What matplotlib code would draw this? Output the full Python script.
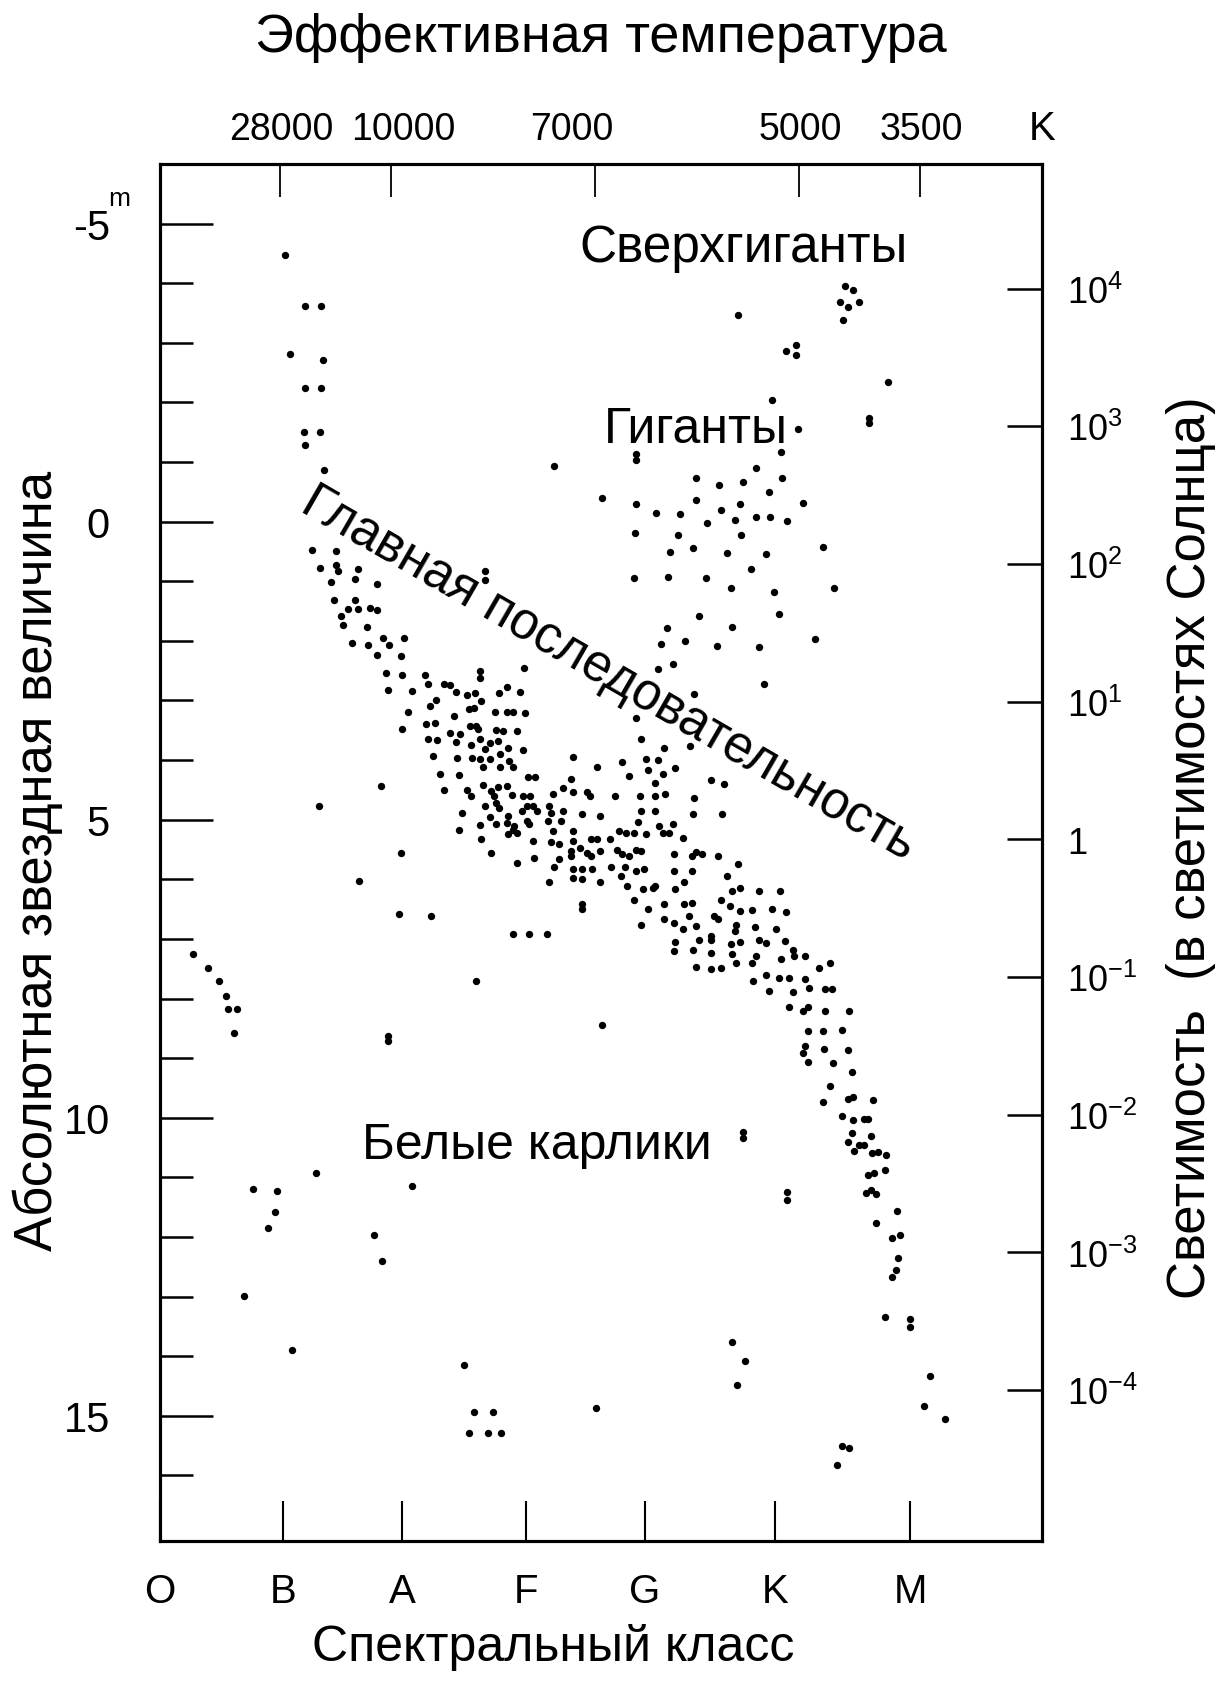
import matplotlib
matplotlib.use('Agg')
import matplotlib.pyplot as plt

plt.rcParams['font.family'] = ['Liberation Sans', 'DejaVu Sans']
plt.rcParams['mathtext.fontset'] = 'custom'
plt.rcParams['mathtext.rm'] = 'Liberation Sans'
plt.rcParams['mathtext.it'] = 'Liberation Sans:italic'
plt.rcParams['mathtext.bf'] = 'Liberation Sans:bold'
NARROW = ['Liberation Sans Narrow', 'Liberation Sans', 'DejaVu Sans']

# spectral class axis: O=0 ... , temperature marks on top, magnitudes on the left
class_names = ['O', 'B', 'A', 'F', 'G', 'K', 'M']
class_pos = [0.0, 0.976, 1.921, 2.905, 3.849, 4.881, 5.952]
temp_labels = ['28000', '10000', '7000', '5000', '3500']
temp_pos = [0.95, 1.83, 3.45, 5.07, 6.03]
temp_label_pos = [0.96, 1.93, 3.27, 5.08, 6.04]   # printed a bit off the ticks
mag_major = [-5, 0, 5, 10, 15]
mag_major_labels = ['-5', '0', '5', '10', '15']
mag_minor = [-4, -3, -2, -1, 1, 2, 3, 4, 6, 7, 8, 9, 11, 12, 13, 14, 16]
lum_exp = [4, 3, 2, 1, 0, -1, -2, -3, -4]
lum_labels = ['10$^{4}$', '10$^{3}$', '10$^{2}$', '10$^{1}$', '1',
              '10$^{-1}$', '10$^{-2}$', '10$^{-3}$', '10$^{-4}$']

# stars: (spectral position, absolute magnitude)
supergiants = [
    (0.99, -4.47), (1.15, -3.61), (1.28, -3.61), (1.03, -2.82), (1.29, -2.72),
    (1.15, -2.25), (1.28, -2.25), (1.14, -1.51), (1.27, -1.51), (1.15, -1.28),
    (1.30, -0.86), (5.44, -3.95), (5.50, -3.88), (5.40, -3.68), (5.46, -3.60),
    (5.55, -3.68), (5.42, -3.38), (4.59, -3.46), (4.97, -2.87), (5.05, -2.96),
    (5.05, -2.79), (5.78, -2.34), (3.13, -0.94)]

giants = [
    (4.86, -2.04), (5.06, -1.55), (5.63, -1.66), (5.63, -1.74), (4.93, -1.17),
    (3.78, -1.14), (3.78, -1.03), (4.73, -0.90), (4.25, -0.74), (4.44, -0.62),
    (4.63, -0.66), (4.94, -0.74), (4.83, -0.50), (3.51, -0.40), (3.78, -0.30),
    (4.25, -0.37), (3.94, -0.15), (4.13, -0.13), (4.45, -0.19), (4.60, -0.29),
    (4.73, -0.07), (4.84, -0.07), (4.98, -0.01), (5.10, -0.32), (4.34, 0.03),
    (4.56, -0.02), (3.77, 0.19), (4.11, 0.23), (4.61, 0.22), (5.26, 0.42),
    (4.05, 0.51), (4.23, 0.45), (4.50, 0.53), (4.81, 0.55), (4.69, 0.80),
    (3.76, 0.95), (4.03, 0.93), (4.33, 0.95), (4.53, 1.12), (4.87, 1.18),
    (5.35, 1.11), (4.28, 1.59), (4.91, 1.55), (4.02, 1.78), (4.54, 1.77),
    (4.17, 2.00), (3.98, 2.06), (4.42, 2.09), (4.75, 2.11), (5.20, 1.97),
    (4.79, 2.72), (3.95, 2.47), (4.07, 2.39), (4.24, 2.89), (3.78, 3.30),
    (3.82, 3.65), (4.00, 3.80), (4.21, 3.77), (3.28, 3.94), (3.47, 4.11),
    (3.67, 4.04), (3.86, 3.98), (3.95, 4.00), (4.09, 4.14)]

ms_upper = [
    (1.21, 0.48), (1.40, 0.49), (1.27, 0.77), (1.40, 0.73), (1.41, 0.82),
    (1.57, 0.79), (1.55, 0.96), (1.72, 1.05), (1.36, 1.01), (1.38, 1.31),
    (1.55, 1.32), (1.49, 1.46), (1.57, 1.47), (1.67, 1.45), (1.72, 1.49),
    (1.44, 1.58), (1.45, 1.74), (1.64, 1.77), (1.52, 2.04), (1.65, 2.07),
    (1.77, 1.96), (1.82, 2.07), (1.94, 1.95), (1.72, 2.24), (1.91, 2.26),
    (1.79, 2.54), (1.92, 2.57), (2.10, 2.57), (2.13, 2.72), (1.81, 2.82),
    (2.00, 2.84), (2.25, 2.73), (2.30, 2.74), (2.35, 2.86), (2.44, 2.90),
    (2.50, 2.88), (2.54, 2.50), (2.54, 2.63), (2.58, 0.83), (2.58, 0.98),
    (2.89, 2.45), (2.69, 2.87), (2.75, 2.78), (2.86, 2.86), (2.19, 2.99),
    (2.14, 3.09), (2.45, 3.14), (2.49, 3.12), (2.55, 3.01), (2.33, 3.26),
    (2.66, 3.19), (2.75, 3.19), (2.80, 3.19), (2.90, 3.21), (1.97, 3.19),
    (1.92, 3.48), (2.11, 3.40), (2.18, 3.38), (2.30, 3.55), (2.38, 3.56),
    (2.35, 3.69), (2.46, 3.42), (2.51, 3.42), (2.52, 3.48), (2.67, 3.49),
    (2.72, 3.52), (2.83, 3.51), (2.13, 3.65), (2.20, 3.66), (2.47, 3.74),
    (2.54, 3.65), (2.58, 3.82), (2.62, 3.72), (2.68, 3.68), (2.76, 3.80),
    (2.88, 3.83), (2.17, 3.93), (2.36, 3.97), (2.48, 3.97), (2.54, 3.98),
    (2.62, 3.98), (2.70, 3.90), (2.77, 4.01), (2.56, 4.12), (2.70, 4.12),
    (2.80, 4.12)]

ms_middle = [
    (2.22, 4.23), (2.37, 4.25), (2.92, 4.29), (2.98, 4.29), (3.26, 4.31),
    (3.72, 4.26), (3.99, 4.24), (3.87, 4.17), (2.25, 4.50), (2.44, 4.50),
    (2.56, 4.42), (2.63, 4.52), (2.68, 4.45), (2.75, 4.44), (3.20, 4.46),
    (3.12, 4.57), (3.28, 4.54), (3.39, 4.54), (3.41, 4.60), (3.61, 4.60),
    (3.81, 4.60), (3.93, 4.60), (4.01, 4.57), (4.24, 4.63), (3.93, 4.38),
    (2.47, 4.60), (2.65, 4.61), (2.79, 4.59), (2.88, 4.61), (2.94, 4.61),
    (2.58, 4.77), (2.67, 4.72), (2.69, 4.80), (2.91, 4.77), (2.96, 4.77),
    (2.99, 4.85), (2.87, 4.85), (3.09, 4.77), (3.10, 4.89), (3.20, 4.85),
    (3.35, 4.91), (3.49, 4.94), (3.82, 4.85), (3.93, 4.85), (4.23, 4.91),
    (2.40, 4.88), (2.62, 4.96), (2.67, 5.08), (2.76, 4.94), (2.75, 5.05),
    (2.81, 5.10), (2.91, 5.02), (2.93, 5.08), (3.08, 5.02), (3.18, 5.02),
    (3.79, 5.04), (4.07, 5.08), (3.96, 5.10), (2.37, 5.17), (2.54, 5.09),
    (2.80, 5.17), (2.76, 5.24), (2.83, 5.23), (2.96, 5.36), (3.12, 5.19),
    (3.28, 5.19), (3.28, 5.36), (3.42, 5.33), (3.47, 5.33), (3.57, 5.33),
    (3.64, 5.19), (3.70, 5.22), (3.76, 5.22), (3.86, 5.24), (3.99, 5.22),
    (4.04, 5.23), (4.15, 5.30), (2.55, 5.33), (2.63, 5.56), (2.83, 5.73),
    (2.97, 5.65), (3.10, 5.38), (3.17, 5.41), (3.26, 5.52), (3.26, 5.61),
    (3.33, 5.47), (3.39, 5.55), (3.42, 5.61), (3.49, 5.52), (3.63, 5.50),
    (3.67, 5.58), (3.72, 5.61), (3.78, 5.50), (3.82, 5.52), (4.08, 5.58),
    (4.22, 5.61), (4.25, 5.54), (4.30, 5.58), (3.17, 5.66), (3.13, 5.80),
    (3.09, 6.05), (3.28, 5.82), (3.28, 5.97), (3.35, 5.82), (3.35, 6.00),
    (3.43, 5.82), (3.49, 6.05), (3.58, 5.79), (3.66, 5.94), (3.69, 5.80),
    (3.78, 5.86), (3.84, 5.83), (4.08, 5.86), (4.22, 5.86), (3.71, 6.11),
    (3.83, 6.17), (3.91, 6.14), (3.93, 6.11), (4.09, 6.16), (4.16, 6.05),
    (3.35, 6.49), (3.76, 6.35), (3.87, 6.49), (4.00, 6.42), (4.16, 6.42),
    (4.22, 6.39), (4.00, 6.67), (4.08, 6.73), (4.20, 6.62)]

ms_k = [
    (4.37, 4.33), (4.48, 4.40), (4.46, 4.90), (4.43, 5.61), (4.59, 5.75),
    (4.50, 5.94), (4.54, 6.20), (4.60, 6.14), (4.75, 6.20), (4.92, 6.20),
    (4.45, 6.34), (4.52, 6.45), (4.60, 6.53), (4.70, 6.52), (4.86, 6.50),
    (4.97, 6.55), (4.40, 6.62), (4.43, 6.67), (4.57, 6.76), (4.56, 6.87),
    (4.72, 6.80), (4.89, 6.83), (4.09, 7.05), (4.08, 7.20), (4.23, 7.19),
    (4.28, 7.01), (4.37, 6.95), (4.37, 7.01), (4.37, 7.23), (4.25, 7.47),
    (4.37, 7.50), (4.45, 7.48), (4.53, 7.09), (4.60, 7.05), (4.54, 7.25),
    (4.57, 7.40), (4.73, 7.29), (4.70, 7.40), (4.75, 7.01), (4.81, 7.06),
    (4.96, 7.04), (5.02, 7.18), (5.03, 7.29), (4.93, 7.34), (5.12, 7.28),
    (5.23, 7.48), (5.32, 7.40), (4.71, 7.71), (4.81, 7.61), (4.91, 7.65),
    (4.99, 7.65), (5.12, 7.68), (5.15, 7.82), (5.28, 7.84), (5.33, 7.84),
    (4.83, 7.88), (5.02, 7.89), (4.99, 8.14), (5.14, 8.14), (3.82, 6.77),
    (4.15, 6.84), (4.25, 6.78)]

ms_lower = [
    (5.10, 8.21), (5.28, 8.21), (5.47, 8.21), (5.14, 8.55), (5.26, 8.54),
    (5.41, 8.52), (5.12, 8.80), (5.10, 8.91), (5.27, 8.84), (5.46, 8.86),
    (5.14, 9.06), (5.34, 9.08), (5.49, 9.24), (5.32, 9.46), (5.26, 9.74),
    (5.46, 9.69), (5.50, 9.66), (5.66, 9.70), (5.41, 9.97), (5.50, 10.03),
    (5.59, 10.02), (5.62, 10.02), (5.49, 10.26), (5.46, 10.40), (5.64, 10.31),
    (5.51, 10.55), (5.55, 10.45), (5.59, 10.45), (5.65, 10.59), (5.70, 10.58),
    (5.76, 10.62), (5.62, 10.96), (5.67, 10.93), (5.75, 10.87), (5.60, 11.27),
    (5.64, 11.21), (5.68, 11.28), (5.85, 11.56), (5.68, 11.77), (5.81, 12.01),
    (5.87, 11.97), (5.86, 12.35), (5.84, 12.55), (5.81, 12.67), (5.75, 13.35),
    (5.95, 13.37), (5.95, 13.51), (6.11, 14.34), (6.06, 14.83), (6.23, 15.06)]

scattered = [
    (1.26, 4.77), (1.75, 4.44), (1.58, 6.03), (1.91, 5.55), (1.90, 6.59),
    (2.15, 6.61), (0.26, 7.26), (0.38, 7.48), (0.47, 7.71), (0.52, 7.95),
    (0.54, 8.17), (0.61, 8.17), (0.59, 8.57), (2.51, 7.71), (2.80, 6.91),
    (2.93, 6.91), (3.07, 6.91), (1.81, 8.62), (1.81, 8.71), (3.51, 8.44),
    (3.35, 6.42), (1.24, 10.92), (2.00, 11.14), (0.74, 11.19), (0.93, 11.23),
    (0.91, 11.58), (0.86, 11.85), (1.70, 11.97), (1.76, 12.40), (0.67, 12.99),
    (1.05, 13.90), (4.63, 10.24), (4.63, 10.34), (4.98, 11.24), (4.98, 11.38),
    (2.41, 14.15), (2.49, 14.94), (2.64, 14.94), (2.45, 15.28), (2.60, 15.29),
    (2.71, 15.29), (3.46, 14.87), (4.54, 13.76), (4.64, 14.08), (4.58, 14.49),
    (5.37, 15.83), (5.41, 15.51), (5.47, 15.54)]


def lum_to_mag(e):
    # luminosity (log, in solar units) -> absolute magnitude as marked on the right
    return 5.33 - 2.31 * e


W, H = 1228, 1683
fig = plt.figure(figsize=(W / 100, H / 100), dpi=100)
ax = fig.add_axes([160 / W, (H - 1542) / H, 882 / W, 1377 / H])
ax.set_xlim(0, 7)
ax.set_ylim(17.1, -6.0)

for group in [supergiants, giants, ms_upper, ms_middle, ms_k, ms_lower, scattered]:
    xs = [p[0] for p in group]
    ys = [p[1] for p in group]
    ax.scatter(xs, ys, s=28, c='black', linewidths=0, zorder=3)

for sp in ax.spines.values():
    sp.set_linewidth(2.2)

# left: magnitudes
ax.set_yticks(mag_major)
ax.set_yticklabels(mag_major_labels)
ax.set_yticks(mag_minor, minor=True)
ax.tick_params(axis='y', which='major', direction='in', length=38, width=1.8,
               pad=36, labelsize=30, right=False)
ax.tick_params(axis='y', which='minor', direction='in', length=24, width=1.8, right=False)
for lab in ax.get_yticklabels():
    lab.set_fontfamily(NARROW)
ax.annotate('m', xy=(0, -5), xycoords=('axes fraction', 'data'), xytext=(-37, 10),
            textcoords='offset points', ha='left', va='bottom', fontsize=19)

# bottom: spectral classes
ax.set_xticks(class_pos)
ax.set_xticklabels(class_names)
ax.tick_params(axis='x', direction='in', length=29, width=1.5, pad=22,
               labelsize=29, top=False)
for lab in ax.get_xticklabels():
    lab.set_fontfamily(NARROW)

# top: effective temperature (labels drawn as texts, a little off their ticks)
axt = ax.twiny()
axt.set_xlim(ax.get_xlim())
axt.set_xticks(temp_pos)
axt.set_xticklabels([])
axt.tick_params(axis='x', direction='in', length=24, width=1.3, bottom=False)
for xp, lab in zip(temp_label_pos, temp_labels):
    axt.annotate(lab, xy=(xp, 1.0), xycoords=('data', 'axes fraction'), xytext=(0, 12),
                 textcoords='offset points', ha='center', va='bottom', fontsize=27)
axt.annotate('K', xy=(1.0, 1.0), xycoords='axes fraction', xytext=(0, 12),
             textcoords='offset points', ha='center', va='bottom', fontsize=29)

# right: luminosity
axr = ax.twinx()
axr.set_ylim(ax.get_ylim())
axr.set_yticks([lum_to_mag(e) for e in lum_exp])
axr.set_yticklabels(lum_labels)
axr.tick_params(axis='y', direction='in', length=25, width=1.8, pad=18,
                labelsize=26, left=False)
for a in (axt, axr):
    for sp in a.spines.values():
        sp.set_linewidth(2.2)

# labels inside the diagram
ax.text(4.63, -4.6, 'Сверхгиганты', fontsize=37, ha='center', va='center')
ax.text(4.25, -1.55, 'Гиганты', fontsize=36, ha='center', va='center')
ax.text(3.56, 2.53, 'Главная последовательность', fontsize=37, rotation=-30,
        rotation_mode='anchor', ha='center', va='center')
ax.text(2.99, 10.45, 'Белые карлики', fontsize=36, ha='center', va='center')

fig.text(601 / W, 1 - 38 / H, 'Эффективная температура', fontsize=39,
         ha='center', va='center')
fig.text(553 / W, 1 - 1648 / H, 'Спектральный класс', fontsize=36,
         ha='center', va='center')
fig.text(38 / W, 1 - 861 / H, 'Абсолютная звездная величина', fontsize=38,
         rotation=90, ha='center', va='center')
fig.text(1191 / W, 1 - 848 / H, 'Светимость  (в светимостях Солнца)', fontsize=38,
         rotation=90, ha='center', va='center')

fig.savefig('out.png', dpi=100, facecolor='white')
